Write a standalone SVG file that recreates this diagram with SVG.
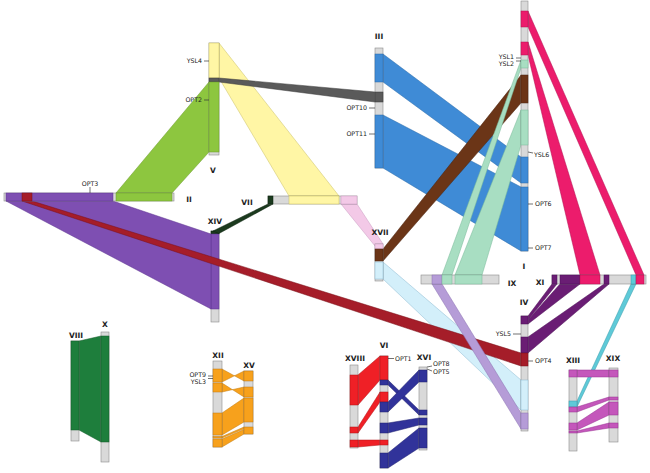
<svg xmlns="http://www.w3.org/2000/svg" width="650" height="473" viewBox="0 0 650 473">
<style>
.g{fill:#d9d9d9;stroke:#8c8c8c;stroke-width:.6}
.s{stroke-width:.5}
.pu{fill:#7e4fb2;stroke:#5e3590}
.yg{fill:#8dc63f;stroke:#6a9a2a}
.ye{fill:#fff6a5;stroke:#c8bf60}
.dg{fill:#5a5a5a;stroke:#3a3a3a}
.bl{fill:#3f8bd6;stroke:#2a6aa8}
.br{fill:#6b3517;stroke:#4a2510}
.lg{fill:#a8dec2;stroke:#78b898}
.pk{fill:#ec1c6c;stroke:#b01050}
.dp{fill:#6a1d74;stroke:#4a0f55}
.li{fill:#b59cd7;stroke:#8a70b0}
.lb{fill:#d3effa;stroke:#8ab8d0}
.rd{fill:#a51d29;stroke:#7a1019}
.cy{fill:#5ecad8;stroke:#3a9aaa}
.mg{fill:#c457bb;stroke:#963090}
.or{fill:#f7a11c;stroke:#c07a10}
.re{fill:#ef2026;stroke:#b01015}
.nv{fill:#31339a;stroke:#20226e}
.gr{fill:#1e7e3c;stroke:#145a2a}
.dk{fill:#1b3a1e;stroke:#0a200c}
.pl{fill:#f3c9e7;stroke:#c89ac0}
polygon,rect{stroke-width:.5}
rect.g{stroke-width:.6}
.n{font-family:"DejaVu Sans",Verdana,sans-serif;font-weight:bold;font-size:7.5px;fill:#222;text-anchor:middle}
.t{font-family:"DejaVu Sans",Verdana,sans-serif;font-size:6.3px;fill:#222}
.e{text-anchor:end}
.m{text-anchor:middle}
.k{stroke:#333;stroke-width:.7;fill:none}
</style>
<rect width="650" height="473" fill="#fff"/>

<g id="chrXIV">
<rect class="g" x="211" y="231" width="8" height="91"/>
<rect class="dk" x="211" y="231" width="8" height="3"/>
<rect class="pu" x="211" y="234" width="8" height="75"/>
<text class="n" x="215" y="224">XIV</text>
</g>

<g id="connectors">
<polygon class="pu" points="6,201 113,201 211,234 211,309"/>
<polygon class="yg" points="209,82 209,152 172,193 116,193"/>
<polygon class="ye" points="219,43 339,196 289,196 219,78"/>
<polygon class="dg" points="219,78 375,92 375,102 219,82"/>
<polygon class="dk" points="268,204 273,204 219,233.5 213,231"/>
<polygon class="pl" points="341,204 357,204 383,244 375,246"/>
<polygon class="bl" points="383,54 521,157 521,183 383,82"/>
<polygon class="bl" points="383,115 521,187 521,251 383,168"/>
<polygon class="lb" points="383,262 521,380 521,410 383,279"/>
<polygon class="br" points="383,249 521,75 521,103 383,261"/>
<polygon class="lg" points="521,60 521,68 452,275 442,275"/>
<polygon class="lg" points="521,110 521,145 482,275 455,275"/>
<polygon class="pk" points="528,11 644,275 636,275 528,27"/>
<polygon class="pk" points="528,42 600,275 580,275 528,55"/>
<polygon class="dp" points="552,284 557,284 528,320 528,316"/>
<polygon class="dp" points="560,284 580,284 528,324 528,320"/>
<polygon class="dp" points="604,284 609,284 528,353 528,337"/>
<polygon class="cy" points="631,284 636,284 577,407 577,401"/>
<polygon class="rd" points="22,201 32,201 521,353 521,366"/>
<polygon class="li" points="432,284 442,284 521,413 521,429"/>
<polygon class="mg" points="577,370 609,370 609,377 577,377"/>
<polygon class="mg" points="577,407 609,397 609,400 577,412"/>
<polygon class="mg" points="577,423 609,402 609,415 577,430"/>
<polygon class="mg" points="577,431 609,423 609,428 577,433"/>
<polygon class="gr" points="79,341 101,336 101,442 79,430"/>
<polygon class="or" points="222,369 244,381 244,371 222,382"/>
<polygon class="or" points="222,383 244,397 244,387 222,392"/>
<polygon class="or" points="222,413 244,398 244,422 222,435"/>
<polygon class="or" points="222,436.5 244,427 244,428.8 222,438"/>
<polygon class="or" points="222,439 244,429.5 244,434 222,447"/>
<polygon class="re" points="358,375 380,356 380,380 358,405"/>
<polygon class="re" points="358,427 380,392 380,402 358,433"/>
<polygon class="re" points="358,440 380,440 380,445 358,447"/>
<polygon class="nv" points="388,380 419,410 419,415 388,385"/>
<polygon class="nv" points="388,402 419,370 419,382 388,412"/>
<polygon class="nv" points="388,423 419,418 419,425 388,433"/>
<polygon class="nv" points="388,453 419,428 419,448 388,468"/>
</g>

<g id="chrV">
<rect class="g" x="209" y="43" width="10" height="112"/>
<rect class="ye" x="209" y="43" width="10" height="35"/>
<rect class="dg" x="209" y="78" width="10" height="4"/>
<rect class="yg" x="209" y="82" width="10" height="70"/>
<line class="k" x1="204" y1="61" x2="209" y2="61"/>
<line class="k" x1="204" y1="100" x2="209" y2="100"/>
<text class="t e" x="202" y="63.2">YSL4</text>
<text class="t e" x="202" y="102.2">OPT2</text>
<text class="n" x="213" y="173">V</text>
</g>

<g id="chrII">
<rect class="g" x="4" y="193" width="170" height="8"/>
<rect class="pu" x="6" y="193" width="107" height="8"/>
<rect class="rd" x="22" y="193" width="10" height="8"/>
<rect class="yg" x="116" y="193" width="56" height="8"/>
<line class="k" x1="90" y1="187" x2="90" y2="193"/>
<text class="t m" x="90" y="186">OPT3</text>
<text class="n" x="189" y="202">II</text>
</g>

<g id="chrVII">
<rect class="g" x="268" y="196" width="89" height="8"/>
<rect class="dk" x="268" y="196" width="5" height="8"/>
<rect class="ye" x="289" y="196" width="50" height="8"/>
<rect class="pl" x="341" y="196" width="16" height="8"/>
<text class="n" x="247" y="205">VII</text>
</g>

<g id="chrIII">
<rect class="g" x="375" y="48" width="8" height="120"/>
<rect class="bl" x="375" y="54" width="8" height="28"/>
<rect class="dg" x="375" y="92" width="8" height="10"/>
<rect class="bl" x="375" y="115" width="8" height="53"/>
<line class="k" x1="369" y1="108" x2="375" y2="108"/>
<line class="k" x1="369" y1="134" x2="375" y2="134"/>
<text class="t e" x="367" y="110.2">OPT10</text>
<text class="t e" x="367" y="136.2">OPT11</text>
<text class="n" x="379" y="39">III</text>
</g>

<g id="chrXVII">
<rect class="g" x="375" y="244" width="8" height="37"/>
<rect class="pl" x="375" y="244" width="8" height="5"/>
<rect class="br" x="375" y="249" width="8" height="12"/>
<rect class="lb" x="375" y="262" width="8" height="17"/>
<text class="n" x="380" y="235">XVII</text>
</g>

<g id="chrI">
<rect class="g" x="521" y="1" width="7" height="250"/>
<rect class="pk" x="521" y="11" width="7" height="16"/>
<rect class="pk" x="521" y="42" width="7" height="13"/>
<rect class="lg" x="521" y="60" width="7" height="8"/>
<rect class="br" x="521" y="75" width="7" height="28"/>
<rect class="lg" x="521" y="110" width="7" height="35"/>
<rect class="bl" x="521" y="157" width="7" height="26"/>
<rect class="bl" x="521" y="187" width="7" height="64"/>
<line class="k" x1="516" y1="58" x2="521" y2="58"/>
<line class="k" x1="516" y1="61" x2="521" y2="61"/>
<line class="k" x1="528" y1="152" x2="533" y2="153"/>
<line class="k" x1="528" y1="204" x2="533" y2="204"/>
<line class="k" x1="528" y1="248" x2="533" y2="248"/>
<text class="t e" x="514" y="58.5">YSL1</text>
<text class="t e" x="514" y="65.5">YSL2</text>
<text class="t" x="534" y="157.2">YSL6</text>
<text class="t" x="535" y="206.2">OPT6</text>
<text class="t" x="535" y="250.2">OPT7</text>
<text class="n" x="524" y="269">I</text>
</g>

<g id="chrIX">
<rect class="g" x="421" y="275" width="78" height="9"/>
<rect class="li" x="432" y="275" width="10" height="9"/>
<rect class="lg" x="442" y="275" width="10" height="9"/>
<rect class="lg" x="455" y="275" width="27" height="9"/>
<text class="n" x="512" y="286">IX</text>
</g>

<g id="chrXI">
<rect class="g" x="552" y="275" width="94" height="9"/>
<rect class="dp" x="552" y="275" width="5" height="9"/>
<rect class="dp" x="560" y="275" width="20" height="9"/>
<rect class="pk" x="580" y="275" width="20" height="9"/>
<rect class="dp" x="604" y="275" width="5" height="9"/>
<rect class="cy" x="631" y="275" width="5" height="9"/>
<rect class="pk" x="636" y="275" width="8" height="9"/>
<text class="n" x="540" y="285">XI</text>
</g>

<g id="chrIV">
<rect class="g" x="521" y="316" width="7" height="115"/>
<rect class="dp" x="521" y="316" width="7" height="8"/>
<rect class="dp" x="521" y="337" width="7" height="16"/>
<rect class="rd" x="521" y="353" width="7" height="13"/>
<rect class="lb" x="521" y="380" width="7" height="30"/>
<rect class="li" x="521" y="413" width="7" height="16"/>
<line class="k" x1="513" y1="334" x2="521" y2="334"/>
<line class="k" x1="528" y1="361" x2="533" y2="361"/>
<text class="t e" x="511" y="336.2">YSL5</text>
<text class="t" x="535" y="363.2">OPT4</text>
<text class="n" x="524" y="305">IV</text>
</g>

<g id="chrXIII">
<rect class="g" x="569" y="370" width="8" height="81"/>
<rect class="mg" x="569" y="370" width="8" height="7"/>
<rect class="cy" x="569" y="401" width="8" height="6"/>
<rect class="mg" x="569" y="407" width="8" height="5"/>
<rect class="mg" x="569" y="423" width="8" height="7"/>
<rect class="mg" x="569" y="431" width="8" height="2"/>
<text class="n" x="573" y="363">XIII</text>
</g>

<g id="chrXIX">
<rect class="g" x="609" y="368" width="9" height="74"/>
<rect class="mg" x="609" y="370" width="9" height="7"/>
<rect class="mg" x="609" y="397" width="9" height="3"/>
<rect class="mg" x="609" y="402" width="9" height="13"/>
<rect class="mg" x="609" y="423" width="9" height="5"/>
<text class="n" x="613" y="361">XIX</text>
</g>

<g id="chrVIII">
<rect class="g" x="71" y="341" width="8" height="100"/>
<rect class="gr" x="71" y="341" width="8" height="89"/>
<text class="n" x="76" y="338">VIII</text>
</g>

<g id="chrX">
<rect class="g" x="101" y="332" width="8" height="130"/>
<rect class="gr" x="101" y="336" width="8" height="106"/>
<text class="n" x="105" y="327">X</text>
</g>

<g id="chrXII">
<rect class="g" x="213" y="361" width="9" height="86"/>
<rect class="or" x="213" y="369" width="9" height="13"/>
<rect class="or" x="213" y="383" width="9" height="9"/>
<rect class="or" x="213" y="413" width="9" height="22"/>
<rect class="or" x="213" y="436.5" width="9" height="1.5"/>
<rect class="or" x="213" y="439" width="9" height="8"/>
<line class="k" x1="208" y1="376" x2="213" y2="376"/>
<line class="k" x1="208" y1="378.5" x2="213" y2="378.5"/>
<text class="t e" x="206" y="377">OPT9</text>
<text class="t e" x="206" y="384">YSL3</text>
<text class="n" x="218" y="358">XII</text>
</g>

<g id="chrXV">
<rect class="g" x="244" y="371" width="9" height="63"/>
<rect class="or" x="244" y="371" width="9" height="10"/>
<rect class="or" x="244" y="387" width="9" height="10"/>
<rect class="or" x="244" y="398" width="9" height="24"/>
<rect class="or" x="244" y="427" width="9" height="7"/>
<text class="n" x="249" y="368">XV</text>
</g>

<g id="chrXVIII">
<rect class="g" x="350" y="365" width="8" height="83"/>
<rect class="re" x="350" y="375" width="8" height="30"/>
<rect class="re" x="350" y="427" width="8" height="6"/>
<rect class="re" x="350" y="440" width="8" height="7"/>
<text class="n" x="355" y="361">XVIII</text>
</g>

<g id="chrVI">
<rect class="g" x="380" y="356" width="8" height="112"/>
<rect class="re" x="380" y="356" width="8" height="24"/>
<rect class="nv" x="380" y="380" width="8" height="5"/>
<rect class="re" x="380" y="392" width="8" height="10"/>
<rect class="nv" x="380" y="402" width="8" height="10"/>
<rect class="nv" x="380" y="423" width="8" height="10"/>
<rect class="re" x="380" y="440" width="8" height="5"/>
<rect class="nv" x="380" y="453" width="8" height="15"/>
<line class="k" x1="388" y1="358.5" x2="394" y2="358.5"/>
<text class="t" x="395" y="361">OPT1</text>
<text class="n" x="384" y="348">VI</text>
</g>

<g id="chrXVI">
<rect class="g" x="419" y="367" width="8" height="83"/>
<rect class="nv" x="419" y="370" width="8" height="12"/>
<rect class="nv" x="419" y="410" width="8" height="5"/>
<rect class="nv" x="419" y="418" width="8" height="7"/>
<rect class="nv" x="419" y="428" width="8" height="20"/>
<line class="k" x1="427" y1="367" x2="432" y2="366"/>
<line class="k" x1="427" y1="369" x2="432" y2="371"/>
<text class="t" x="433" y="366.2">OPT8</text>
<text class="t" x="433" y="374.2">OPT5</text>
<text class="n" x="424" y="360">XVI</text>
</g>
</svg>
